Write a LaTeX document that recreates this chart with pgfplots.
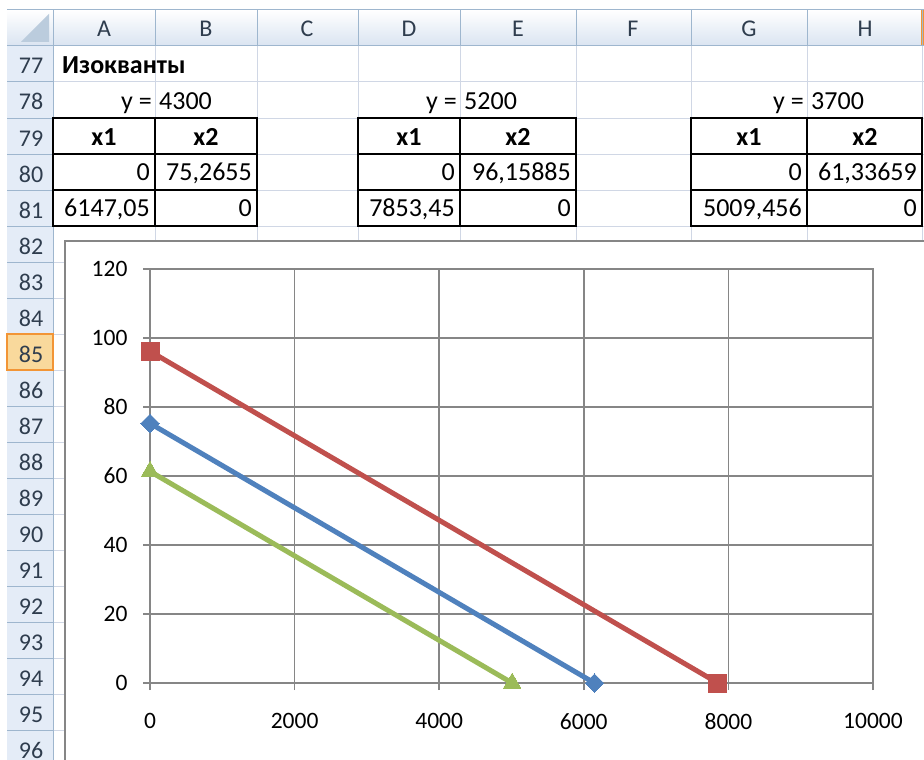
\documentclass[border=0pt]{standalone}
\usepackage{fontspec}
\setmainfont{Carlito}
\usepackage{pgfplots}
\pgfplotsset{compat=1.18}
\definecolor{cellgrid}{HTML}{D0D7E5}
\definecolor{hdrfill}{HTML}{E4ECF7}
\definecolor{hdrline}{HTML}{9EB6CE}
\definecolor{hdrtext}{HTML}{2F3D4E}
\definecolor{selfill}{HTML}{F9D99C}
\definecolor{selline}{HTML}{F29536}
\definecolor{chartgray}{HTML}{868686}
\definecolor{xlblue}{HTML}{4F81BD}
\definecolor{xlred}{HTML}{C0504D}
\definecolor{xlgreen}{HTML}{9BBB59}
\newcommand\cellfont{\fontsize{26}{30}\selectfont}
\newcommand\hdrfont{\fontsize{24}{28}\selectfont}

\begin{document}
\begin{tikzpicture}
\useasboundingbox (0pt,0pt) rectangle (924pt,-760pt);
\clip (0pt,0pt) rectangle (924pt,-760pt);

% --- the sheet behind the chart, in pixel units (y down)
\begin{scope}[x=1pt,y=-1pt]
  \fill[white] (0,0) rectangle (924,760);
  % column header row
  \shade[top color=white, bottom color=hdrfill!85!hdrline] (7,10) rectangle (924,46);
  \fill[hdrfill] (7,46) rectangle (53,760);
  \fill[selfill] (7,334) rectangle (53,370);
  \fill[selline] (921,10) rectangle (924,46);
  % cell grid
  \foreach \i in {0,...,20} {
    \draw[cellgrid, line width=1pt] (53,46+36*\i) -- (924,46+36*\i);
    \draw[hdrline, line width=1pt] (7,46+36*\i) -- (53,46+36*\i);
  }
  \foreach \c in {155,257,358,460,576,691,807,922} {
    \draw[cellgrid, line width=1pt] (\c,46) -- (\c,760);
    \draw[hdrline, line width=1pt] (\c,10) -- (\c,46);
  }
  \draw[hdrline, line width=1pt] (53,10) -- (53,760);
  \draw[hdrline, line width=1pt] (7,10) -- (924,10);
  \draw[hdrline, line width=1pt] (7,46) -- (924,46);
  \draw[selline, line width=1.5pt] (7,334) rectangle (53,370);
  % corner triangle
  \fill[hdrline!70] (49,14) -- (49,42) -- (21,42) -- cycle;
  % column letters
  \foreach \x/\l in {104/A,206/B,307/C,409/D,518/E,633/F,749/G,865/H}
    \node[anchor=base, text=hdrtext, font=\hdrfont] at (\x,37) {\l};
  % row numbers
  \foreach \k in {77,...,96}
    \node[anchor=base, text=hdrtext, font=\hdrfont] at (31,{74+36*(\k-77)}) {\k};
  % data tables
  \foreach \a/\b/\c in {53/155/257,358/460/576,691/807/922} {
    \draw[black, line width=1.5pt] (\a,118) rectangle (\c,226);
    \draw[black, line width=1.5pt] (\b,118) -- (\b,226);
    \draw[black, line width=1.5pt] (\a,154) -- (\c,154);
    \draw[black, line width=1.5pt] (\a,190) -- (\c,190);
  }
  \begin{scope}[every node/.style={inner sep=0pt, font=\cellfont}]
  \node[anchor=base west, font=\cellfont\bfseries] at (62,74) {Изокванты};
  \foreach \b/\v in {155/4300,460/5200,807/3700} {
    \node[anchor=base east] at (\b-3,110) {y =};
    \node[anchor=base west] at (\b+4,110) {\v};
  }
  \foreach \m/\n in {104/x1,206/x2,409/x1,518/x2,749/x1,865/x2}
    \node[anchor=base, font=\cellfont\bfseries] at (\m,145) {\n};
  \node[anchor=base east] at (150,180) {0};
  \node[anchor=base east] at (252,180) {75,2655};
  \node[anchor=base east] at (150,216) {6147,05};
  \node[anchor=base east] at (252,216) {0};
  \node[anchor=base east] at (455,180) {0};
  \node[anchor=base east] at (571,180) {96,15885};
  \node[anchor=base east] at (455,216) {7853,45};
  \node[anchor=base east] at (571,216) {0};
  \node[anchor=base east] at (802,180) {0};
  \node[anchor=base east] at (917,180) {61,33659};
  \node[anchor=base east] at (802,216) {5009,456};
  \node[anchor=base east] at (917,216) {0};
  \end{scope}
  % chart area
  \filldraw[fill=white, draw=chartgray, line width=1.5pt] (65,241) rectangle (950,790);
\end{scope}

\begin{axis}[
  at={(150pt,-683pt)}, anchor=south west,
  width=723pt, height=414pt, scale only axis,
  xmin=0, xmax=10000, ymin=0, ymax=120,
  xtick={0,2000,...,10000}, ytick={0,20,...,120},
  grid=major,
  major grid style={chartgray, line width=1.5pt},
  axis line style={chartgray, line width=1.5pt},
  major tick style={chartgray, line width=1.5pt},
  major tick length=7pt, tick align=outside, tick pos=left,
  ticklabel style={font=\fontsize{23.5}{26}\selectfont, text=black},
  xticklabel style={yshift=-20pt},
  yticklabel style={xshift=-12pt},
  /pgf/number format/assume math mode=true,
  /pgf/number format/1000 sep={},
  scaled x ticks=false,
  clip=false,
]
\addplot[xlblue, line width=5pt, mark=square*, mark size=6.5pt,
  mark options={solid, fill=xlblue, line width=0pt, rotate=45}]
  coordinates {(0,75.2655) (6147.05,0)};
\addplot[xlred, line width=5pt, mark=square*, mark size=9pt,
  mark options={solid, fill=xlred, line width=0pt}]
  coordinates {(0,96.15885) (7853.45,0)};
\addplot[xlgreen, line width=5pt, mark=triangle*, mark size=10pt,
  mark options={solid, fill=xlgreen, line width=0pt}]
  coordinates {(0,61.33659) (5009.456,0)};
\end{axis}
\end{tikzpicture}
\end{document}
